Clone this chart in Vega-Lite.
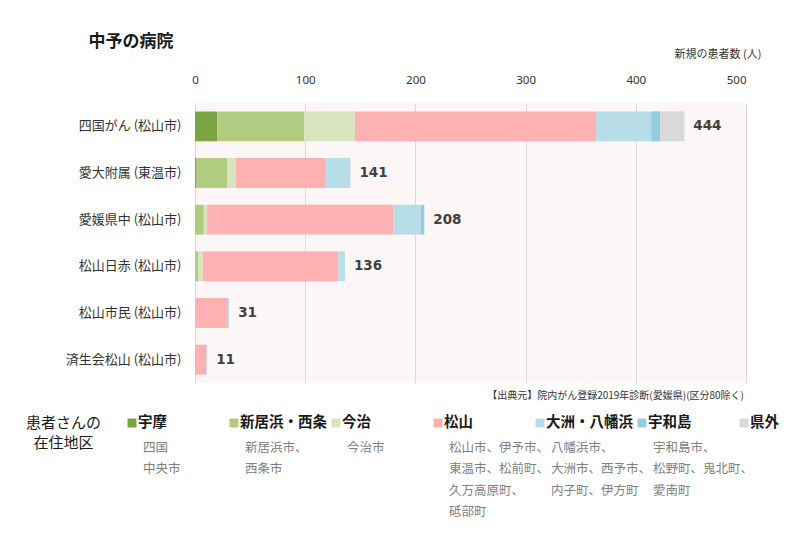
{
  "$schema": "https://vega.github.io/schema/vega-lite/v6.json",
  "background": "white",
  "padding": {"left": 25, "top": 33, "right": 10, "bottom": 10},
  "title": {"text": "中予の病院", "anchor": "start", "dx": 63, "offset": -3, "fontSize": 17, "fontWeight": "bold", "color": "#1a1a1a", "font": "Noto Sans CJK JP"},
  "config": {"font": "Noto Sans CJK JP", "view": {"stroke": null}},
  "datasets": {
    "counts": [
      {"hospital": "四国がん (松山市)", "region": "宇摩", "rank": 1, "count": 20},
      {"hospital": "四国がん (松山市)", "region": "新居浜・西条", "rank": 2, "count": 79},
      {"hospital": "四国がん (松山市)", "region": "今治", "rank": 3, "count": 46},
      {"hospital": "四国がん (松山市)", "region": "松山", "rank": 4, "count": 219},
      {"hospital": "四国がん (松山市)", "region": "大洲・八幡浜", "rank": 5, "count": 50},
      {"hospital": "四国がん (松山市)", "region": "宇和島", "rank": 6, "count": 8},
      {"hospital": "四国がん (松山市)", "region": "県外", "rank": 7, "count": 22},
      {"hospital": "愛大附属 (東温市)", "region": "宇摩", "rank": 1, "count": 1},
      {"hospital": "愛大附属 (東温市)", "region": "新居浜・西条", "rank": 2, "count": 28},
      {"hospital": "愛大附属 (東温市)", "region": "今治", "rank": 3, "count": 8},
      {"hospital": "愛大附属 (東温市)", "region": "松山", "rank": 4, "count": 81},
      {"hospital": "愛大附属 (東温市)", "region": "大洲・八幡浜", "rank": 5, "count": 23},
      {"hospital": "愛媛県中 (松山市)", "region": "新居浜・西条", "rank": 2, "count": 8},
      {"hospital": "愛媛県中 (松山市)", "region": "今治", "rank": 3, "count": 3},
      {"hospital": "愛媛県中 (松山市)", "region": "松山", "rank": 4, "count": 169},
      {"hospital": "愛媛県中 (松山市)", "region": "大洲・八幡浜", "rank": 5, "count": 25},
      {"hospital": "愛媛県中 (松山市)", "region": "宇和島", "rank": 6, "count": 3},
      {"hospital": "松山日赤 (松山市)", "region": "新居浜・西条", "rank": 2, "count": 3},
      {"hospital": "松山日赤 (松山市)", "region": "今治", "rank": 3, "count": 4},
      {"hospital": "松山日赤 (松山市)", "region": "松山", "rank": 4, "count": 123},
      {"hospital": "松山日赤 (松山市)", "region": "大洲・八幡浜", "rank": 5, "count": 6},
      {"hospital": "松山市民 (松山市)", "region": "松山", "rank": 4, "count": 29},
      {"hospital": "松山市民 (松山市)", "region": "大洲・八幡浜", "rank": 5, "count": 2},
      {"hospital": "済生会松山 (松山市)", "region": "松山", "rank": 4, "count": 10},
      {"hospital": "済生会松山 (松山市)", "region": "大洲・八幡浜", "rank": 5, "count": 1}
    ],
    "legend": [
      {"region": "宇摩", "desc": "四国\n中央市"},
      {"region": "新居浜・西条", "desc": "新居浜市、\n西条市"},
      {"region": "今治", "desc": "今治市"},
      {"region": "松山", "desc": "松山市、伊予市、\n東温市、松前町、\n久万高原町、\n砥部町"},
      {"region": "大洲・八幡浜", "desc": "八幡浜市、\n大洲市、西予市、\n内子町、伊方町"},
      {"region": "宇和島", "desc": "宇和島市、\n松野町、鬼北町、\n愛南町"},
      {"region": "県外", "desc": ""}
    ]
  },
  "columns": 1,
  "align": "none",
  "spacing": 8,
  "concat": [
    {
      "width": 720,
      "height": 280,
      "view": {"stroke": null},
      "encoding": {
        "y": {
          "field": "hospital", "type": "nominal",
          "sort": ["四国がん (松山市)", "愛大附属 (東温市)", "愛媛県中 (松山市)", "松山日赤 (松山市)", "松山市民 (松山市)", "済生会松山 (松山市)"],
          "scale": {"paddingInner": 0.36, "paddingOuter": 0.18},
          "axis": {"title": null, "ticks": false, "tickSize": 0, "domain": false, "offset": -169, "labelPadding": 14, "labelFontSize": 13, "labelColor": "#333333", "minExtent": 0, "labelLimit": 200}
        },
        "x": {
          "type": "quantitative",
          "scale": {"domain": [-153.4, 500], "nice": false, "zero": false},
          "axis": {
            "orient": "top", "values": [0, 100, 200, 300, 400, 500], "grid": true, "gridColor": "#d6d6d6",
            "domain": false, "ticks": false, "tickSize": 0, "labelPadding": 18, "labelFontSize": 11.5,
            "labelFont": "Noto Sans", "labelColor": "#333333",
            "title": "新規の患者数 (人)", "titleFontSize": 11, "titleFontWeight": "normal", "titleColor": "#333333",
            "titleAlign": "right", "titleX": 735, "titleY": -49, "titleBaseline": "middle"
          }
        }
      },
      "layer": [
        {
          "data": {"values": [{"from": 0, "to": 500}]},
          "mark": {"type": "rect", "color": "#F8E1E1", "opacity": 0.3},
          "encoding": {
            "x": {"field": "from", "type": "quantitative"},
            "x2": {"field": "to"},
            "y": null
          }
        },
        {
          "data": {"name": "counts"},
          "mark": {"type": "bar"},
          "encoding": {
            "x": {"field": "count", "type": "quantitative", "stack": "zero"},
            "order": {"field": "rank", "type": "quantitative", "sort": "ascending"},
            "color": {
              "field": "region", "type": "nominal",
              "scale": {"domain": ["宇摩", "新居浜・西条", "今治", "松山", "大洲・八幡浜", "宇和島", "県外"], "range": ["#7AA542", "#B1CB80", "#D7E4BD", "#FFB0B0", "#B7DDE8", "#8ECEDF", "#D9D9D9"]},
              "legend": null
            }
          }
        },
        {
          "data": {"name": "counts"},
          "transform": [{"aggregate": [{"op": "sum", "field": "count", "as": "total"}], "groupby": ["hospital"]}],
          "mark": {"type": "text", "align": "left", "baseline": "middle", "dx": 9, "font": "DejaVu Sans", "fontWeight": "bold", "fontSize": 13.5, "color": "#404040"},
          "encoding": {
            "x": {"field": "total", "type": "quantitative"},
            "text": {"field": "total", "type": "quantitative"}
          }
        }
      ]
    },
    {
      "width": 718,
      "height": 20,
      "view": {"stroke": null},
      "data": {"name": "legend"},
      "title": {"text": "【出典元】院内がん登録2019年診断(愛媛県)(区分80除く)", "anchor": "end", "frame": "group", "fontSize": 10, "fontWeight": "normal", "color": "#333333", "offset": 14},
      "encoding": {
        "x": {
          "field": "region", "type": "nominal",
          "sort": ["宇摩", "新居浜・西条", "今治", "松山", "大洲・八幡浜", "宇和島", "県外"],
          "scale": {"type": "point", "padding": 0.5196, "align": 1},
          "axis": null
        },
        "y": {
          "datum": 1, "type": "quantitative",
          "scale": {"domain": [0, 1], "nice": false},
          "axis": {
            "title": ["患者さんの", "在住地区"], "titleAngle": 0, "titleX": 37, "titleY": -8,
            "titleAlign": "center", "titleBaseline": "top", "titleFontSize": 15, "titleFontWeight": "normal",
            "titleColor": "#1a1a1a", "titleLineHeight": 20,
            "labels": false, "ticks": false, "domain": false, "grid": false
          }
        }
      },
      "layer": [
        {
          "mark": {"type": "point", "shape": "square", "filled": true, "size": 80, "opacity": 1},
          "encoding": {
            "color": {
              "field": "region", "type": "nominal",
              "scale": {"domain": ["宇摩", "新居浜・西条", "今治", "松山", "大洲・八幡浜", "宇和島", "県外"], "range": ["#7AA542", "#B1CB80", "#D7E4BD", "#FFB0B0", "#B7DDE8", "#8ECEDF", "#D9D9D9"]},
              "legend": null
            }
          }
        },
        {
          "mark": {"type": "text", "align": "left", "baseline": "middle", "dx": 6, "fontSize": 14.5, "fontWeight": "bold", "color": "#1a1a1a"},
          "encoding": {"text": {"field": "region"}}
        },
        {
          "mark": {"type": "text", "align": "left", "baseline": "top", "dx": 11, "dy": 19, "fontSize": 12.5, "color": "#808080", "lineBreak": "\n", "lineHeight": 21.3},
          "encoding": {"text": {"field": "desc"}}
        }
      ]
    }
  ]
}
